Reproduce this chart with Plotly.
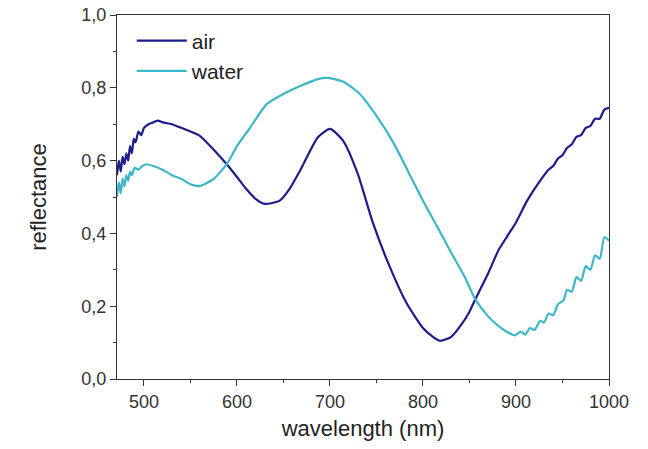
import plotly.graph_objects as go

# ---- data ----
air_x = [471, 473, 475, 477, 479, 481, 483, 485, 487, 489, 491, 494, 497, 500, 505, 510, 515, 520,
         530, 540, 550, 560, 575, 589, 600, 610, 620, 630, 646, 656, 668, 687, 700,
         714, 730, 746, 764, 782, 800, 810, 818, 830, 840, 850, 856, 870, 881, 890, 900,
         912, 926, 935, 940, 945, 950, 955, 960, 965, 970, 975, 980, 985, 990, 995, 1000]
air_y = [0.56, 0.60, 0.57, 0.61, 0.59, 0.62, 0.60, 0.64, 0.62, 0.66, 0.65, 0.68, 0.67, 0.69, 0.70, 0.705, 0.71, 0.705,
         0.70, 0.69, 0.68, 0.668, 0.63, 0.59, 0.555, 0.522, 0.495, 0.481, 0.49, 0.52, 0.573, 0.664, 0.687,
         0.655, 0.563, 0.43, 0.31, 0.21, 0.14, 0.117, 0.105, 0.115, 0.145, 0.185, 0.218, 0.29, 0.353, 0.39, 0.43,
         0.49, 0.545, 0.575, 0.585, 0.605, 0.615, 0.635, 0.645, 0.665, 0.67, 0.69, 0.695, 0.715, 0.715, 0.74, 0.745]

water_x = [471, 473, 475, 477, 479, 481, 483, 485, 487, 490, 494, 498, 503, 510, 520, 530, 540, 550, 560,
           575, 589, 600, 614, 632, 653, 668, 687, 698, 714, 732, 750, 768, 788,
           800, 815, 829, 845, 856, 870, 880, 890, 899, 905, 910, 915, 920, 926, 930, 935, 940, 945,
           951, 955, 960, 965, 970, 975, 980, 985, 990, 995, 1000]
water_y = [0.50, 0.54, 0.51, 0.55, 0.53, 0.56, 0.545, 0.57, 0.56, 0.58, 0.575, 0.585, 0.59, 0.585, 0.575, 0.56, 0.55, 0.535, 0.53,
           0.55, 0.59, 0.64, 0.69, 0.755, 0.787, 0.805, 0.824, 0.827, 0.817, 0.783, 0.723, 0.65, 0.55,
           0.49, 0.42, 0.353, 0.28, 0.22, 0.172, 0.148, 0.13, 0.12, 0.13, 0.122, 0.14, 0.135, 0.16, 0.155, 0.18, 0.175, 0.205,
           0.216, 0.245, 0.24, 0.28, 0.27, 0.31, 0.30, 0.34, 0.33, 0.39, 0.38]

y_tickvals = [0.0, 0.2, 0.4, 0.6, 0.8, 1.0]
y_ticktext = ["0,0", "0,2", "0,4", "0,6", "0,8", "1,0"]
y_minor = [0.1, 0.3, 0.5, 0.7, 0.9]
x_tickvals = [500, 600, 700, 800, 900, 1000]

FONT = "Liberation Sans, Arial, sans-serif"

fig = go.Figure()
fig.add_trace(go.Scatter(x=air_x, y=air_y, mode="lines", name="air",
                         line=dict(color="#1c1c8a", width=2.2, shape="spline", smoothing=0.6)))
fig.add_trace(go.Scatter(x=water_x, y=water_y, mode="lines", name="water",
                         line=dict(color="#3cb7c7", width=2.2, shape="spline", smoothing=0.6)))

axis_common = dict(showline=True, linecolor="#333333", linewidth=1, mirror=True,
                   ticks="outside", ticklen=6, tickcolor="#333333", showgrid=False, zeroline=False,
                   automargin=False, ticklabeloverflow="allow",
                   tickfont=dict(size=18, color="#333333", family=FONT))

fig.update_xaxes(range=[471, 1000], tickvals=x_tickvals,
                 minor=dict(ticks="outside", ticklen=3, dtick=50, tick0=450, tickcolor="#333333", showgrid=False),
                 title=dict(text="wavelength (nm)", font=dict(size=22, color="#222222", family=FONT), standoff=10),
                 **axis_common)
fig.update_yaxes(range=[0, 1.0], tickvals=y_tickvals, ticktext=y_ticktext,
                 minor=dict(ticks="outside", ticklen=3, tickvals=y_minor, tickcolor="#333333", showgrid=False),
                 title=dict(text="reflectance", font=dict(size=22, color="#222222", family=FONT), standoff=28),
                 **axis_common)

fig.update_layout(
    width=648, height=449,
    margin=dict(l=117, r=39, t=15, b=70),
    paper_bgcolor="white", plot_bgcolor="white",
    font=dict(family=FONT, color="#222222"),
    legend=dict(x=0.03, y=0.985, xanchor="left", yanchor="top", bgcolor="rgba(0,0,0,0)",
                font=dict(size=21, color="#222222", family=FONT), tracegroupgap=0, itemwidth=50),
    showlegend=True,
)

fig.write_html("out.html", config={"displayModeBar": False},
               post_script="document.body.style.margin='0';")
